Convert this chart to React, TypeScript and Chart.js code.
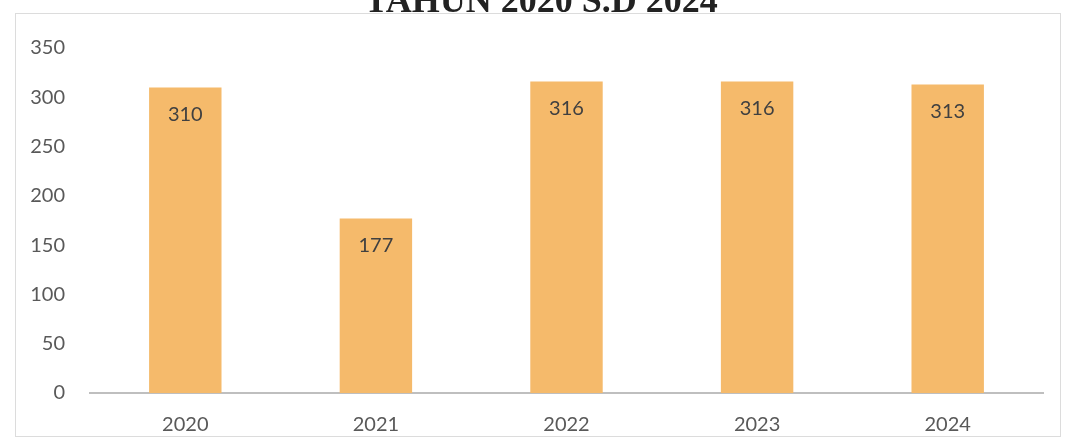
import React, { useEffect, useRef } from "react";
import { Chart, registerables } from "chart.js";

Chart.register(...registerables);

const TITLE = "TAHUN 2020 S.D 2024";
const CATEGORIES = ["2020", "2021", "2022", "2023", "2024"];
const VALUES = [310, 177, 316, 316, 313];
const Y_MIN = 0;
const Y_MAX = 350;
const Y_STEP = 50;

const BAR_COLOR = "#F5BA6B";
const LABEL_COLOR = "#404040";
const TICK_COLOR = "#595959";
const FONT = "Lato, 'Open Sans', sans-serif";

const decorPlugin = {
  id: "decor",
  beforeDraw(chart: any) {
    const ctx = chart.ctx;
    ctx.save();
    ctx.fillStyle = "#ffffff";
    ctx.fillRect(0, 0, chart.width, chart.height);
    ctx.strokeStyle = "#dcdcdc";
    ctx.lineWidth = 1;
    ctx.strokeRect(15.5, 13.5, 1045, 423);
    ctx.fillStyle = "#222222";
    ctx.font = "bold 36px 'Liberation Serif', serif";
    ctx.textAlign = "center";
    ctx.textBaseline = "alphabetic";
    ctx.fillText(TITLE, 541, 12);
    ctx.restore();
  },
  afterDatasetsDraw(chart: any) {
    const ctx = chart.ctx;
    const meta = chart.getDatasetMeta(0);
    ctx.save();
    ctx.fillStyle = LABEL_COLOR;
    ctx.font = "20px " + FONT;
    ctx.textAlign = "center";
    ctx.textBaseline = "middle";
    meta.data.forEach((bar: any, i: number) => {
      ctx.fillText(String(VALUES[i]), bar.x, bar.y + 27);
    });
    ctx.restore();
  },
};

export default function App() {
  const ref = useRef<HTMLCanvasElement>(null);
  useEffect(() => {
    if (!ref.current) return;
    const chart = new Chart(ref.current, {
      type: "bar",
      data: {
        labels: CATEGORIES,
        datasets: [
          {
            data: VALUES,
            backgroundColor: BAR_COLOR,
            categoryPercentage: 1,
            barPercentage: 0.38,
          },
        ],
      },
      options: {
        animation: false,
        responsive: false,
        maintainAspectRatio: false,
        devicePixelRatio: 1,
        layout: { padding: { top: 48, left: 28, right: 33, bottom: 4 } },
        plugins: { legend: { display: false }, tooltip: { enabled: false } },
        scales: {
          x: {
            grid: { display: false, drawTicks: false },
            border: { display: true, color: "#bfbfbf", width: 2 },
            ticks: { color: TICK_COLOR, font: { size: 20, family: FONT }, padding: 20 },
            afterFit: (scale: any) => {
              scale.height = 44;
            },
          },
          y: {
            min: Y_MIN,
            max: Y_MAX,
            grid: { display: false, drawTicks: false },
            border: { display: false },
            ticks: { stepSize: Y_STEP, color: TICK_COLOR, font: { size: 20, family: FONT }, padding: 25 },
            afterFit: (scale: any) => {
              scale.width = 62;
            },
          },
        },
      },
      plugins: [decorPlugin],
    });
    return () => chart.destroy();
  }, []);
  return (
    <div style={{ position: "absolute", left: 0, top: 0, width: 1076, height: 441 }}>
      <canvas ref={ref} width={1076} height={441} style={{ width: 1076, height: 441 }} />
    </div>
  );
}
